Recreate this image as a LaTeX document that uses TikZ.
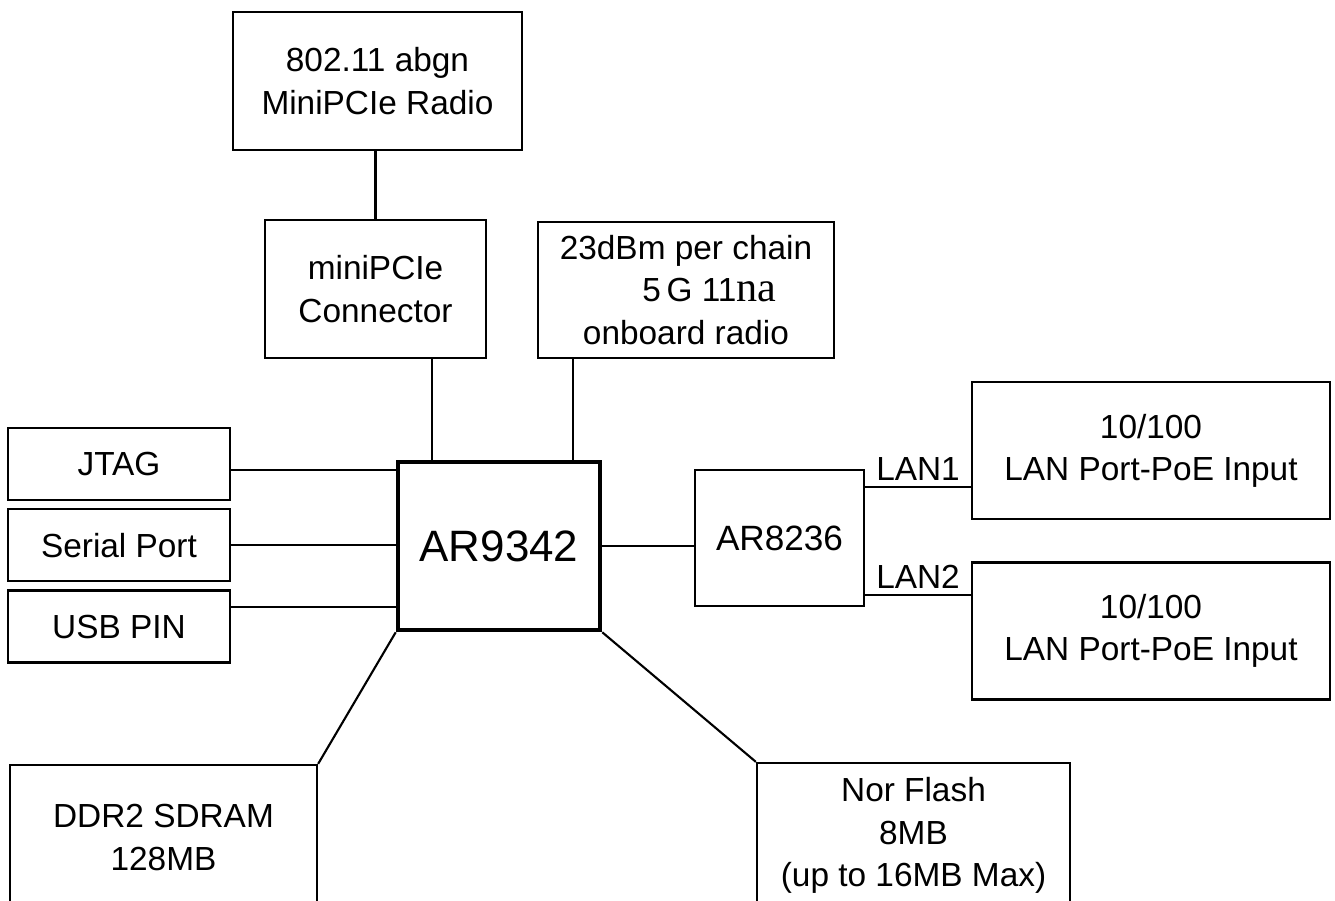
\documentclass[tikz,border=0pt]{standalone}
\usepackage{fontspec}
\usepackage{tikz}
\usetikzlibrary{positioning}
\setmainfont{Liberation Sans}
\newfontfamily\serifna{Liberation Serif}

\begin{document}
\begin{tikzpicture}[
		box/.style={draw=black, line width=1.3pt, inner sep=0pt, align=center,
			font=\fontsize{19}{24}\selectfont},
		chip/.style={box, line width=2.6pt, font=\fontsize{25}{30}\selectfont},
		link/.style={line width=1.2pt, draw=black}
	]
		\clip (0,0) rectangle (26.7,-18.02);
		\fill[white] (0,0) rectangle (26.7,-18.02);

		\node[box, minimum width=5.78cm, minimum height=2.76cm] (radio) at (7.55,-1.62) {802.11 abgn\\MiniPCIe Radio};
		\node[box, minimum width=4.42cm, minimum height=2.76cm] (conn) at (7.51,-5.78) {miniPCIe\\Connector};
		\node[box, minimum width=5.92cm, minimum height=2.72cm] (onboard) at (13.72,-5.80)
			{23dBm per chain\\\hspace*{1.4em}5\,G 11{\serifna\fontsize{24}{24}\selectfont na}\\onboard radio};

		\node[box, minimum width=4.44cm, minimum height=1.44cm] (jtag) at (2.38,-9.28) {JTAG};
		\node[box, minimum width=4.44cm, minimum height=1.44cm, below=0.14cm of jtag] (serial) {Serial Port};
		\node[box, minimum width=4.44cm, minimum height=1.44cm, below=0.14cm of serial] (usb) {USB PIN};

		\node[chip, minimum width=4.04cm, minimum height=3.36cm] (soc) at (9.98,-10.92) {AR9342};
		\node[box, minimum width=3.38cm, minimum height=2.72cm, font=\fontsize{20}{24}\selectfont] (switch) at (15.59,-10.76) {AR8236};

		\node[box, minimum width=7.16cm, minimum height=2.74cm] (lan1) at (23.02,-9.01) {10/100\\LAN Port-PoE Input};
		\node[box, minimum width=7.16cm, minimum height=2.74cm] (lan2) at (23.02,-12.62) {10/100\\LAN Port-PoE Input};

		\node[box, minimum width=6.14cm, minimum height=2.9cm] (ddr) at (3.27,-16.75) {DDR2 SDRAM\\128MB};
		\node[box, minimum width=6.26cm, minimum height=2.9cm] (flash) at (18.27,-16.71) {Nor Flash\\8MB\\(up to 16MB Max)};

		\draw[link] (conn.north) -- (conn.north |- radio.south);
		\draw[link] ([xshift=1.13cm]conn.south) -- ([xshift=1.13cm]conn.south |- soc.north);
		\draw[link] ([xshift=-2.26cm]onboard.south) -- ([xshift=-2.26cm]onboard.south |- soc.north);
		\draw[link] ([yshift=-0.12cm]jtag.east) -- ([yshift=-0.12cm]jtag.east -| soc.west);
		\draw[link] (serial.east) -- (serial.east -| soc.west);
		\draw[link] ([yshift=0.4cm]usb.east) -- ([yshift=0.4cm]usb.east -| soc.west);
		\draw[link] (soc.east) -- (soc.east -| switch.west);
		\draw[link] ([yshift=-0.73cm]lan1.west) -- node[above, font=\fontsize{19}{24}\selectfont] {LAN1} ([yshift=-0.73cm]lan1.west -| switch.east);
		\draw[link] ([yshift=0.72cm]lan2.west) -- node[above, font=\fontsize{19}{24}\selectfont] {LAN2} ([yshift=0.72cm]lan2.west -| switch.east);
		\draw[link] (soc.south west) -- (ddr.north east);
		\draw[link] (soc.south east) -- (flash.north west);
	\end{tikzpicture}
\end{document}
